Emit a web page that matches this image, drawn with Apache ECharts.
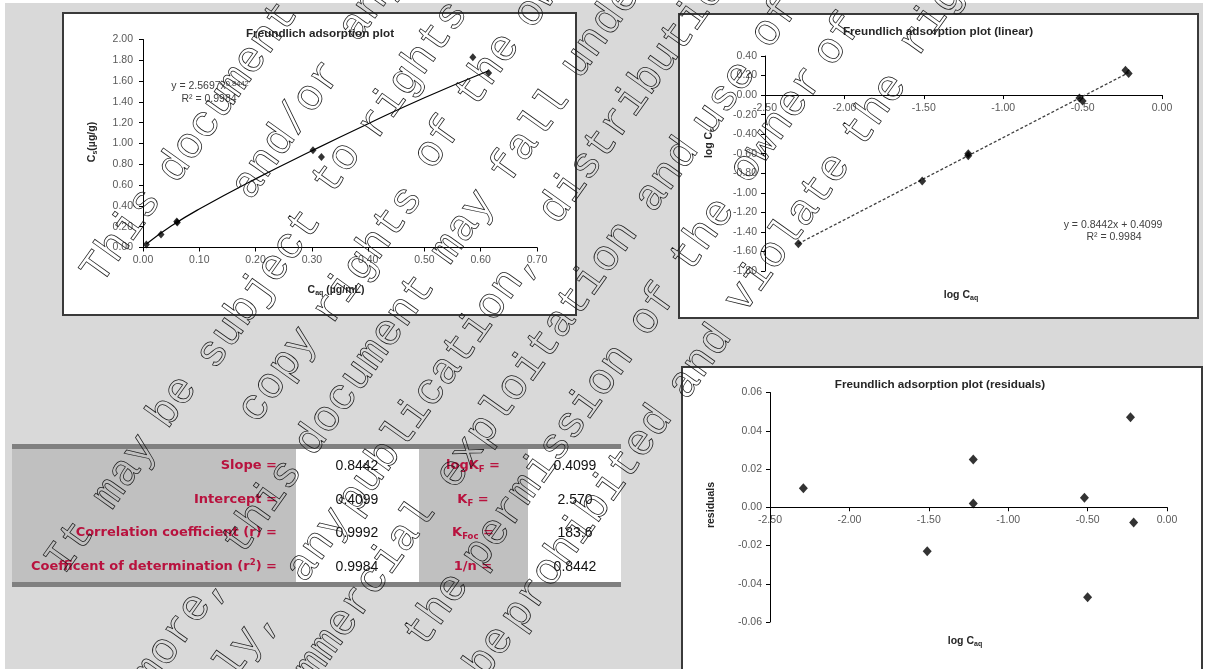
<!DOCTYPE html>
<html><head><meta charset="utf-8">
<script src="https://cdn.jsdelivr.net/npm/echarts@6/dist/echarts.min.js"></script>
<style>html,body{margin:0;padding:0;background:#fff}#c{width:1206px;height:669px}</style>
</head><body><div id="c"></div>
<script>
// ---------- data ----------
// Chart 1: Freundlich adsorption plot (Cs vs Caq)
const caq = [0.006, 0.032, 0.060, 0.061, 0.302, 0.317, 0.586, 0.614];
const cs  = [0.030, 0.125, 0.250, 0.240, 0.936, 0.871, 1.830, 1.678];
// power trend line (y = 2.5697x^0.8442)
const powerFitX = [0.006, 0.05, 0.10, 0.20, 0.30, 0.40, 0.50, 0.614];
const powerFitY = [0.034, 0.206, 0.37, 0.66, 0.93, 1.19, 1.44, 1.70];
// Chart 2: linear (log) plot
const logCaq = [-2.29, -1.51, -1.22, -1.22, -0.52, -0.50, -0.23, -0.21];
const logCs  = [-1.52, -0.88, -0.60, -0.62, -0.03, -0.06, 0.255, 0.22];
const linFitX = [-2.29, -0.21];
const linFitY = [-1.52, 0.23];
// Chart 3: residuals
const residuals = [0.010, -0.023, 0.025, 0.002, 0.005, -0.047, 0.047, -0.008];
// Table
const statLabels = ['{n|Slope =}', '{n|Intercept =}', '{n|Correlation coefficient (r) =}', '{n|Coefficent of determination (r}{sup|2}{n|) =}'];
const statValues = ['0.8442', '0.4099', '0.9992', '0.9984'];
const constLabels = ['{n|logK}{sub|F}{n| =}', '{n|K}{sub|F}{n| =}', '{n|K}{sub|Foc}{n| =}', '{n|1/n =}'];
const constValues = ['0.4099', '2.570', '183.6', '0.8442'];
// Watermark words: [text, centre x, centre y]
const watermarkWords = [
 ['This',122,236],['document',228,92],
 ['and/or',287,130],['any',371,4],
 ['It',70,547],['may',125,472],['be',173,402],['subject',259,289],['to',337,168],['rights',413,70],
 ['copy',278,375],['rights',368,255],['of',438,143],['the',488,70],['owner',561,-30],
 ['Furthermore,',126,705],['this',263,507],['document',365,365],['may',463,227],['fall',530,135],['under',608,20],
 ['Consequently,',170,750],['any',318,545],['publication,',438,381],['distribution',640,90],
 ['commercial',350,612],['exploitation',537,355],['and',667,175],['use',724,98],['of',775,22],
 ['the',437,610],['permission',548,457],['of',653,310],['the',703,235],['owner',777,125],['of',838,40],
 ['be',490,652],['prohibited',587,518],['and',700,362],['violate',788,233],['the',875,110],['rights',954,-13]
];

// ---------- chart ----------
const chart = echarts.init(document.getElementById('c'), null, {renderer:'canvas', width:1206, height:669});
const FONT = 'Liberation Sans, Arial, sans-serif';
const fmt2 = v => (Math.abs(v) < 1e-9 ? 0 : v).toFixed(2);

function axisCommon(onZero, margin) {
  return {
    type: 'value',
    axisLine: {show: true, onZero: onZero, lineStyle: {color: '#000', width: 1}},
    axisTick: {show: true, inside: false, length: 4, lineStyle: {color: '#000', width: 1}},
    axisLabel: {color: '#595959', fontSize: 10.5, fontFamily: FONT, margin: margin, formatter: fmt2,
                showMinLabel: true, showMaxLabel: true, hideOverlap: false},
    splitLine: {show: false}
  };
}

function txt(text, x, y, opt) {
  opt = opt || {};
  return {
    type: 'text', x: x, y: y, rotation: opt.rotation || 0, z: opt.z == null ? 50 : opt.z, silent: true,
    style: {
      text: text, fill: opt.fill || '#000',
      font: opt.font || ('10px ' + FONT),
      textAlign: opt.align || 'center', align: opt.align || 'center',
      textVerticalAlign: 'middle', verticalAlign: 'middle',
      rich: opt.rich
    }
  };
}
function rs(o) { o.color = o.fill; return o; }

const NAMEC = '#262626';
const axisNameRich = {
  n: rs({fontSize: 10.5, fontWeight: 'bold', fontFamily: FONT, fill: NAMEC, lineHeight: 14}),
  sub: rs({fontSize: 7, fontWeight: 'bold', fontFamily: FONT, fill: NAMEC, lineHeight: 8, verticalAlign: 'bottom'})
};
const EQC = '#404040';
const eqRich = {
  n: rs({fontSize: 10.5, fontFamily: FONT, fill: EQC, lineHeight: 13}),
  sup: rs({fontSize: 7.5, fontFamily: FONT, fill: EQC, lineHeight: 8, verticalAlign: 'top'})
};
const RED = '#b8123e';
const RFONT = 'DejaVu Sans, Verdana, sans-serif';
const redRich = {
  n: rs({fontSize: 13, fontWeight: 'bold', fontFamily: RFONT, fill: RED, lineHeight: 17}),
  sub: rs({fontSize: 8.5, fontWeight: 'bold', fontFamily: RFONT, fill: RED, lineHeight: 10, verticalAlign: 'bottom'}),
  sup: rs({fontSize: 8.5, fontWeight: 'bold', fontFamily: RFONT, fill: RED, lineHeight: 10, verticalAlign: 'top'})
};

const graphics = [];
// page background
graphics.push({type:'rect', z:-20, silent:true, shape:{x:5, y:3, width:1198, height:666}, style:{fill:'#d9d9d9'}});
// chart boxes
[[63,13,513,302],[679,14,519,304],[682,367,520,310]].forEach(b => {
  graphics.push({type:'rect', z:-10, silent:true, shape:{x:b[0], y:b[1], width:b[2], height:b[3]},
                 style:{fill:'#fff', stroke:'#3a3a3a', lineWidth:2}});
});
// titles
const TFONT = 'bold 11.7px ' + FONT;
graphics.push(txt('Freundlich adsorption plot', 320, 34, {font:TFONT, fill:NAMEC}));
graphics.push(txt('Freundlich adsorption plot (linear)', 938, 32, {font:TFONT, fill:NAMEC}));
graphics.push(txt('Freundlich adsorption plot (residuals)', 940, 385, {font:TFONT, fill:NAMEC}));
// axis names
graphics.push(txt('{n|C}{sub|s}{n|(µg/g)}', 92, 142, {rotation: Math.PI/2, rich: axisNameRich}));
graphics.push(txt('{n|C}{sub|aq}{n| (µg/mL)}', 336, 290, {rich: axisNameRich}));
graphics.push(txt('{n|log C}{sub|s}', 709, 143, {rotation: Math.PI/2, rich: axisNameRich}));
graphics.push(txt('{n|log C}{sub|aq}', 961, 295, {rich: axisNameRich}));
graphics.push(txt('{n|residuals}', 711, 505, {rotation: Math.PI/2, rich: axisNameRich}));
graphics.push(txt('{n|log C}{sub|aq}', 965, 641, {rich: axisNameRich}));
// trend equations
graphics.push(txt('{n|y = 2.5697x}{sup|0.8442}', 210, 86, {rich: eqRich}));
graphics.push(txt('{n|R² = 0.9984}', 209, 99, {rich: eqRich}));
graphics.push(txt('{n|y = 0.8442x + 0.4099}', 1113, 225, {rich: eqRich}));
graphics.push(txt('{n|R² = 0.9984}', 1114, 237, {rich: eqRich}));

// table
graphics.push({type:'rect', z:-5, silent:true, shape:{x:12, y:448, width:284, height:134}, style:{fill:'#c0c0c0'}});
graphics.push({type:'rect', z:-5, silent:true, shape:{x:296, y:448, width:123, height:134}, style:{fill:'#fff'}});
graphics.push({type:'rect', z:-5, silent:true, shape:{x:419, y:448, width:109, height:134}, style:{fill:'#c0c0c0'}});
graphics.push({type:'rect', z:-5, silent:true, shape:{x:528, y:448, width:93, height:134}, style:{fill:'#fff'}});
graphics.push({type:'rect', z:-4, silent:true, shape:{x:12, y:444, width:609, height:5}, style:{fill:'#808080'}});
graphics.push({type:'rect', z:-4, silent:true, shape:{x:12, y:582, width:609, height:5}, style:{fill:'#808080'}});
const rowY = [466, 500, 533, 567];
const VFONT = '14px ' + FONT;
statLabels.forEach((t, i) => graphics.push(txt(t, 277, rowY[i], {align:'right', rich: redRich})));
statValues.forEach((t, i) => graphics.push(txt(t, 357, rowY[i], {font:VFONT, fill:'#111'})));
constLabels.forEach((t, i) => graphics.push(txt(t, 473, rowY[i], {rich: redRich})));
constValues.forEach((t, i) => graphics.push(txt(t, 575, rowY[i], {font:VFONT, fill:'#111'})));

// watermark (outlined text)
const WM_ANGLE = 54.5 * Math.PI / 180;
watermarkWords.forEach(w => {
  graphics.push({type:'text', x:w[1], y:w[2], rotation: WM_ANGLE, z:100, silent:true,
    style:{text:w[0], font:'44px "Liberation Mono", "DejaVu Sans Mono", monospace',
           fill:'rgba(0,0,0,0)', stroke:'#1a1a1a', lineWidth:0.75,
           textAlign:'center', align:'center', textVerticalAlign:'middle', verticalAlign:'middle'}});
});

const x0 = axisCommon(false, 7), x1 = axisCommon(false, 8), x2 = axisCommon(false, 7);
const y0 = axisCommon(false, 10), y1 = axisCommon(false, 8), y2 = axisCommon(false, 8);

const G = [
  {left:143, top:39.5, width:394, height:208},
  {left:765, top:56, width:397, height:215},
  {left:770, top:392.5, width:397, height:229.5}
];

const option = {
  backgroundColor: '#ffffff',
  animation: false,
  grid: G.map(g => Object.assign({containLabel:false, outerBoundsMode:'none'}, g)),
  xAxis: [
    Object.assign(x0, {gridIndex:0, min:0, max:0.7, interval:0.1}),
    Object.assign(x1, {gridIndex:1, min:-2.5, max:0, interval:0.5}),
    Object.assign(x2, {gridIndex:2, min:-2.5, max:0, interval:0.5})
  ],
  yAxis: [
    Object.assign(y0, {gridIndex:0, min:0, max:2, interval:0.2}),
    Object.assign(y1, {gridIndex:1, min:-1.8, max:0.4, interval:0.2}),
    Object.assign(y2, {gridIndex:2, min:-0.06, max:0.06, interval:0.02})
  ],
  series: [
    {type:'line', xAxisIndex:0, yAxisIndex:0, smooth:true, showSymbol:false, z:3,
     data: powerFitX.map((x, i) => [x, powerFitY[i]]), lineStyle:{color:'#000', width:1.2}},
    {type:'scatter', xAxisIndex:0, yAxisIndex:0, symbol:'diamond', symbolSize:[7,8], z:4,
     data: caq.map((x, i) => [x, cs[i]]), itemStyle:{color:'#000'}},
    {type:'line', xAxisIndex:1, yAxisIndex:1, showSymbol:false, z:3,
     data: linFitX.map((x, i) => [x, linFitY[i]]), lineStyle:{color:'#404040', width:1.3, type:[3,2]}},
    {type:'scatter', xAxisIndex:1, yAxisIndex:1, symbol:'diamond', symbolSize:[8,9], z:4,
     data: logCaq.map((x, i) => [x, logCs[i]]), itemStyle:{color:'#000'}},
    {type:'scatter', xAxisIndex:2, yAxisIndex:2, symbol:'diamond', symbolSize:[9,10], z:4,
     data: logCaq.map((x, i) => [x, residuals[i]]), itemStyle:{color:'#000'}}
  ],
  graphic: graphics
};
chart.setOption(option);
// move the x axes of charts 2 and 3 (line, ticks and labels) onto y = 0, located through the library's own scale
const zero1 = chart.convertToPixel({yAxisIndex: 1}, 0);
const zero2 = chart.convertToPixel({yAxisIndex: 2}, 0);
chart.setOption({xAxis: [
  {},
  {offset: zero1 - (G[1].top + G[1].height)},
  {offset: zero2 - (G[2].top + G[2].height)}
]});
</script>
</body></html>
